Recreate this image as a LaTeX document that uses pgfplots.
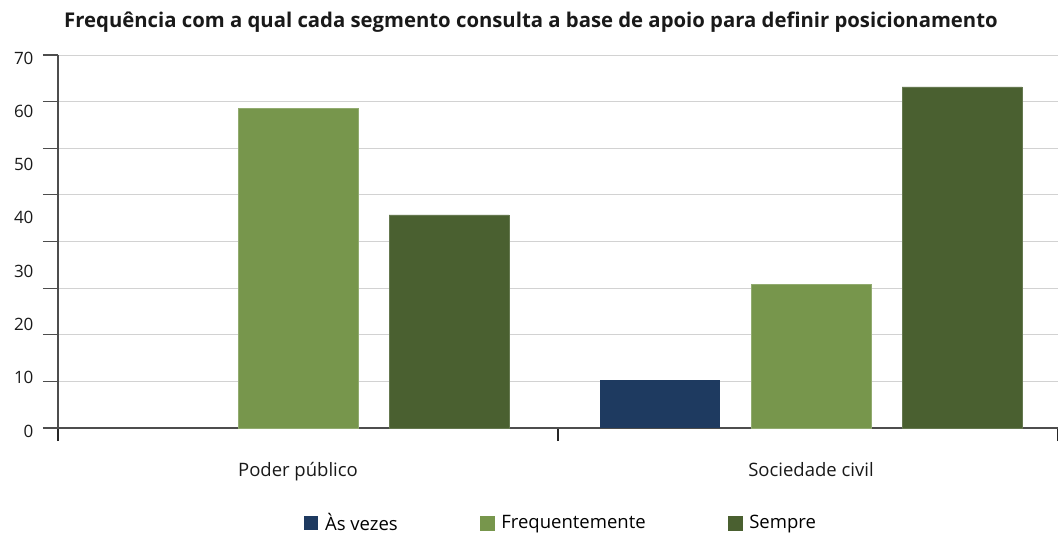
\documentclass[border=0pt]{standalone}
\usepackage{fontspec}
\setmainfont{Open Sans}
\usepackage{pgfplots}
\pgfplotsset{compat=1.18}
\definecolor{cnavy}{HTML}{1E3A60}
\definecolor{cgreen}{HTML}{77964C}
\definecolor{cdark}{HTML}{4A6030}
\definecolor{cgrid}{HTML}{D2D2D2}
\definecolor{caxis}{HTML}{4D4D4D}
\begin{document}
\begin{tikzpicture}[x=1pt,y=1pt]
\useasboundingbox (-58,-110) rectangle (1000,428);
\begin{axis}[
  at={(0pt,0pt)}, anchor=south west,
  width=1000pt, height=373pt, scale only axis,
  xmin=0, xmax=2, ymin=0, ymax=70,
  axis x line*=bottom, axis y line*=left,
  x axis line style={caxis, line width=1.6pt},
  y axis line style={caxis, line width=1.2pt},
  tick align=outside,
  major tick length=0pt,
  ytick={0,10,20,30,40,50,60,70},
  yticklabels={0,10,20,30,40,50,60,70},
  minor ytick={0,8.75,17.5,26.25,35,43.75,52.5,61.25,70},
  yminorgrids,
  minor grid style={cgrid, line width=1pt},
  ytick style={caxis, line width=1.2pt, /pgfplots/minor tick length=15pt},
  yticklabel style={anchor=east, xshift=-21pt, yshift=-3pt, font=\fontsize{17}{20}\selectfont, text=black!90},
  xtick={0.48,1.506},
  xticklabels={Poder público, Sociedade civil},
  minor xtick={0,1,2},
  xtick style={black!85, line width=1.6pt, /pgfplots/minor tick length=13pt},
  xticklabel style={anchor=base, yshift=-48pt, font=\fontsize{18.5}{22}\selectfont, text=black!90},
  legend style={at={(0.503,-0.2547)}, anchor=center, draw=none, fill=none,
    legend columns=3, font=\fontsize{18.5}{22}\selectfont,
    /tikz/every odd column/.append style={column sep=5pt},
    /tikz/every even column/.append style={column sep=80pt}},
]
\addplot[ybar, bar width=0.24, bar shift=0pt, fill=cnavy, draw=none,
  legend image code/.code={\fill[cnavy] (0pt,-7pt) rectangle (14pt,7pt);}]
  coordinates {(1.204,9)};
\addlegendentry{Às vezes}
\addplot[ybar, bar width=0.24, bar shift=0pt, fill=cgreen, draw=cgreen!80!white, line width=0.6pt,
  legend image code/.code={\fill[cgreen] (0pt,-7pt) rectangle (14pt,7pt);}]
  coordinates {(0.48,60) (1.506,27)};
\addlegendentry{Frequentemente}
\addplot[ybar, bar width=0.24, bar shift=0pt, fill=cdark, draw=cdark!85!white, line width=0.6pt,
  legend image code/.code={\fill[cdark] (0pt,-7pt) rectangle (14pt,7pt);}]
  coordinates {(0.782,40) (1.808,64)};
\addlegendentry{Sempre}
\end{axis}
\node[font=\bfseries\fontsize{20.3}{24}\selectfont, text=black!90] at (473,406)
  {Frequência com a qual cada segmento consulta a base de apoio para definir posicionamento};
\end{tikzpicture}
\end{document}
